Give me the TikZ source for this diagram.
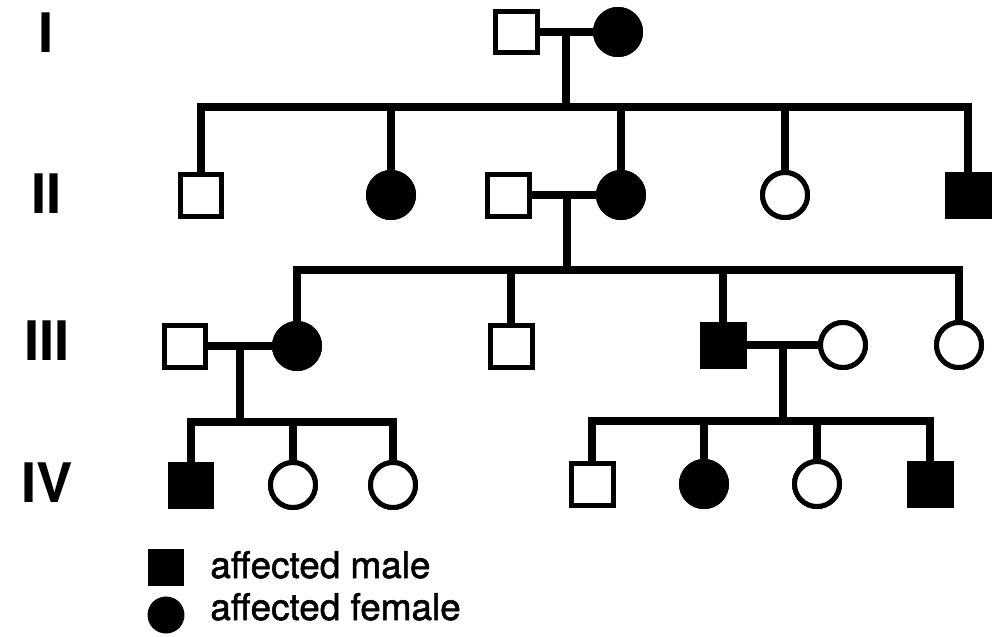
\documentclass[tikz,border=0pt]{standalone}
\usepackage{fontspec}
\setmainfont{TeX Gyre Heros}
\newfontfamily\legfont{TeX Gyre Heros}[BoldFont={TeX Gyre Heros},BoldFeatures={FakeBold=1.4}]
\begin{document}
\begin{tikzpicture}[x=0.02cm,y=-0.02cm,
  male/.style={rectangle,draw,line width=0.1cm,minimum size=0.84cm,inner sep=0pt,fill=white},
  female/.style={circle,draw,line width=0.1cm,minimum size=0.9cm,inner sep=0pt,fill=white},
  affected/.style={fill=black},
  link/.style={line width=0.16cm},
  gen/.style={font=\fontsize{31}{31}\selectfont\bfseries,anchor=center},
  legtext/.style={font=\legfont\fontsize{21}{21}\selectfont\bfseries,anchor=base west,inner sep=0pt}]
\useasboundingbox (0,0) rectangle (1000,636);

% generation labels
\node[gen] (gI)   at (46,33)  {I};
\node[gen] (gII)  at (47,194) {II};
\node[gen] (gIII) at (47,341) {III};
\node[gen] (gIV)  at (47,483) {IV};

% generation I
\node[male]             (I1) at (516,32) {};
\node[female,affected]  (I2) at (618,32) {};

% generation II
\node[male]             (II1) at (201,195) {};
\node[female,affected]  (II2) at (391,195) {};
\node[male]             (II3) at (508,195) {};
\node[female,affected]  (II4) at (621,195) {};
\node[female]           (II5) at (785,195) {};
\node[male,affected]    (II6) at (968,195) {};

% generation III
\node[male]             (III1) at (185,346) {};
\node[female,affected]  (III2) at (297,346) {};
\node[male]             (III3) at (511,346) {};
\node[male,affected]    (III4) at (723,345) {};
\node[female]           (III5) at (843,345) {};
\node[female]           (III6) at (959,345) {};

% generation IV
\node[male,affected]    (IV1) at (191,485) {};
\node[female]           (IV2) at (293,485) {};
\node[female]           (IV3) at (393,485) {};
\node[male]             (IV4) at (592,484) {};
\node[female,affected]  (IV5) at (704,484) {};
\node[female]           (IV6) at (817,484) {};
\node[male,affected]    (IV7) at (930,484) {};

% marriage midpoints and sibship junctions
\coordinate (mI)    at (566,32);
\coordinate (sI)    at (566,107);
\coordinate (mII)   at (567,194);
\coordinate (sII)   at (567,270);
\coordinate (mIIIa) at (240,343);
\coordinate (sIIIa) at (240,422);
\coordinate (mIIIb) at (783,341);
\coordinate (sIIIb) at (783,421);

% family I
\draw[link] (I1.east) -- (I2.west);
\draw[link] (mI) -- (sI);
\draw[link] (II1.north) |- (sI) -| (II6.north);
\draw[link] (II2.north) -- (II2.north |- sI);
\draw[link] (II4.north) -- (II4.north |- sI);
\draw[link] (II5.north) -- (II5.north |- sI);

% family II
\draw[link] (II3.east) -- (II4.west);
\draw[link] (mII) -- (sII);
\draw[link] (III2.north) |- (sII) -| (III6.north);
\draw[link] (III3.north) -- (III3.north |- sII);
\draw[link] (III4.north) -- (III4.north |- sII);

% family IIIa
\draw[link] (III1.east) -- (III2.west);
\draw[link] (mIIIa) -- (sIIIa);
\draw[link] (IV1.north) |- (sIIIa) -| (IV3.north);
\draw[link] (IV2.north) -- (IV2.north |- sIIIa);

% family IIIb
\draw[link] (III4.east) -- (III5.west);
\draw[link] (mIIIb) -- (sIIIb);
\draw[link] (IV4.north) |- (sIIIb) -| (IV7.north);
\draw[link] (IV5.north) -- (IV5.north |- sIIIb);
\draw[link] (IV6.north) -- (IV6.north |- sIIIb);

% redraw symbols above the lines
\foreach \n in {I1,II1,II3,III1,III3,IV4}
  \node[male] at (\n) {};
\foreach \n in {II6,III4,IV1,IV7}
  \node[male,affected] at (\n) {};
\foreach \n in {II5,III5,III6,IV2,IV3,IV6}
  \node[female] at (\n) {};
\foreach \n in {I2,II2,II4,III2,IV5}
  \node[female,affected] at (\n) {};

% legend
\node[rectangle,fill=black,minimum size=0.74cm,inner sep=0pt] (lm) at (166,567) {};
\node[circle,fill=black,minimum size=0.74cm,inner sep=0pt] (lf) at (166,615) {};
\node[legtext] (lmt) at (210,578) {affected male};
\node[legtext] (lft) at (210,620) {affected female};
\end{tikzpicture}
\end{document}
